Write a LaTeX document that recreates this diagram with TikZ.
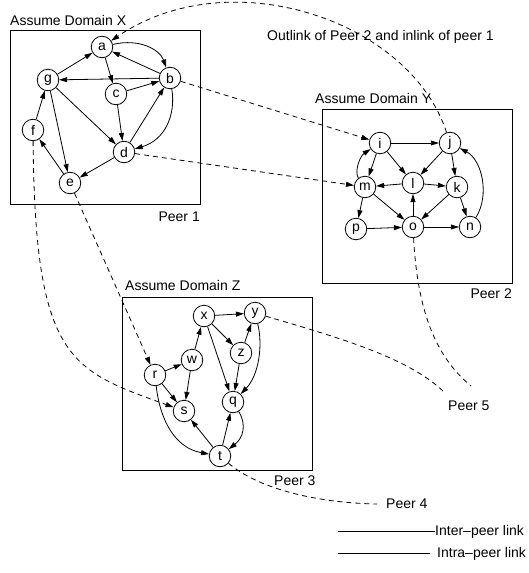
\documentclass[tikz,border=0pt]{standalone}
\usepackage{fontspec}
\setmainfont{Liberation Sans}
\usetikzlibrary{arrows.meta}
\tikzset{
  vtx/.style={circle, draw, line width=0.8pt, minimum size=21.5pt, inner sep=0pt, font=\fontsize{14}{14}\selectfont},
  lbl/.style={inner sep=0pt, font=\fontsize{14}{14}\selectfont},
  box/.style={draw, line width=1pt},
  arr/.style={line width=0.8pt, -{Triangle[length=8pt,width=5pt]}},
  dsh/.style={line width=0.8pt, dash pattern=on 5pt off 4pt},
  dsharr/.style={dsh, -{Triangle[length=8pt,width=5pt]}},
  leg/.style={line width=0.8pt}
}
\begin{document}
\begin{tikzpicture}[x=1pt,y=-1pt]
\useasboundingbox (0,0) rectangle (528,573);

% boxes
\draw[box] (10,30) rectangle (200,204);
\draw[box] (322,109) rectangle (512,283);
\draw[box] (122,297) rectangle (312,470);

% labels
\node[lbl, anchor=base west] (lx) at (10,25) {Assume Domain X};
\node[lbl, anchor=base east] (p1) at (200,221) {Peer 1};
\node[lbl, anchor=base west] (ly) at (315,103.5) {Assume Domain Y};
\node[lbl, anchor=base east] (p2) at (512,298) {Peer 2};
\node[lbl, anchor=base west] (lz) at (125,290) {Assume Domain Z};
\node[lbl, anchor=base west] (p3) at (274,485) {Peer 3};
\node[lbl, anchor=base west] (outl) at (267,40.5) {Outlink of Peer 2 and inlink of peer 1};
\node[lbl, anchor=base west] (p5) at (448,410) {Peer 5};
\node[lbl, anchor=base west] (p4) at (386,508) {Peer 4};
\node[lbl, anchor=base west] (l1t) at (435,535) {Inter--peer link};
\node[lbl, anchor=base west] (l2t) at (437,557) {Intra--peer link};
\coordinate (l1a) at (338,531);
\coordinate (l1b) at (435,531);
\coordinate (l2a) at (338,553);
\coordinate (l2b) at (430,553);
\coordinate (p5l) at (445,393);
\coordinate (p5t) at (471,386);
\coordinate (p4l) at (377,504);

% Domain X nodes
\node[vtx] (a) at (102,47) {a};
\node[vtx] (b) at (170,78) {b};
\node[vtx] (g) at (48,80) {g};
\node[vtx] (c) at (116,94) {c};
\node[vtx] (f) at (33,130) {f};
\node[vtx] (d) at (124,152) {d};
\node[vtx] (e) at (70,183) {e};

% Domain Y nodes
\node[vtx] (i) at (380,143) {i};
\node[vtx] (j) at (450,143) {j};
\node[vtx] (m) at (365,187) {m};
\node[vtx] (l) at (413,183) {l};
\node[vtx] (k) at (457,187) {k};
\node[vtx] (p) at (356,229) {p};
\node[vtx] (o) at (413,227) {o};
\node[vtx] (n) at (470,227) {n};

% Domain Z nodes
\node[vtx] (x) at (204,316) {x};
\node[vtx] (y) at (255,313) {y};
\node[vtx] (z) at (241,353) {z};
\node[vtx] (w) at (192,360) {w};
\node[vtx] (r) at (155,375) {r};
\node[vtx] (s) at (184,411) {s};
\node[vtx] (q) at (233,402) {q};
\node[vtx] (t) at (220,456) {t};

% X edges
\draw[arr] (a) .. controls (140,38) and (160,50) .. (b);
\draw[arr] (b) -- (a);
\draw[arr] (b) -- (g);
\draw[arr] (a) -- (c);
\draw[arr] (c) -- (b);
\draw[arr] (g) -- (a);
\draw[arr] (g) -- (d);
\draw[arr] (g) -- (e);
\draw[arr] (c) -- (d);
\draw[arr] (b) .. controls (176,115) and (165,140) .. (d);
\draw[arr] (d) -- (b);
\draw[arr] (d) -- (e);
\draw[arr] (e) -- (f);
\draw[arr] (f) -- (g);

% Y edges
\draw[arr] (i) -- (j);
\draw[arr] (i) -- (m);
\draw[arr] (m) .. controls (354,172) and (360,156) .. (i);
\draw[arr] (i) -- (l);
\draw[arr] (j) -- (l);
\draw[arr] (j) -- (k);
\draw[arr] (l) -- (m);
\draw[arr] (l) -- (k);
\draw[arr] (m) -- (p);
\draw[arr] (m) -- (o);
\draw[arr] (o) -- (l);
\draw[arr] (k) -- (o);
\draw[arr] (k) -- (n);
\draw[arr] (p) -- (o);
\draw[arr] (o) -- (n);
\draw[arr] (n) .. controls (490,195) and (482,160) .. (j);

% Z edges
\draw[arr] (x) -- (y);
\draw[arr] (x) -- (z);
\draw[arr] (z) -- (y);
\draw[arr] (x) -- (q);
\draw[arr] (z) -- (q);
\draw[arr] (y) .. controls (263,345) and (259,375) .. (q);
\draw[arr] (w) -- (x);
\draw[arr] (r) -- (w);
\draw[arr] (w) -- (s);
\draw[arr] (r) -- (s);
\draw[arr] (r) .. controls (160,420) and (175,448) .. (t);
\draw[arr] (t) -- (s);
\draw[arr] (t) -- (q);
\draw[arr] (q) .. controls (247,425) and (243,438) .. (t);

% inter-peer links
\draw[dsharr] (j) .. controls (410,20) and (230,-40) .. (a);
\draw[dsharr] (b) -- (i);
\draw[dsharr] (d) -- (m);
\draw[dsharr] (e) -- (r);
\draw[dsharr] (f) .. controls (35,360) and (70,370) .. (s);
\draw[dsh] (y) .. controls (340,338) and (410,358) .. (p5l);
\draw[dsh] (o) .. controls (418,320) and (440,360) .. (p5t);
\draw[dsh] (t) .. controls (260,490) and (320,503) .. (p4l);

% legend
\draw[leg] (l1a) -- (l1b);
\draw[leg] (l2a) -- (l2b);
\end{tikzpicture}
\end{document}
